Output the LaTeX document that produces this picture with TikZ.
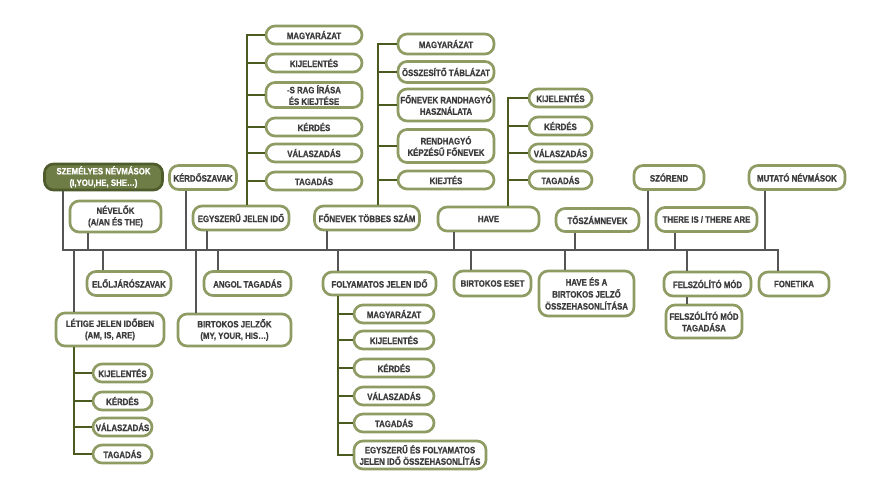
\documentclass[tikz,border=0pt]{standalone}
\usepackage{fontspec}
\newfontfamily\condfont{Liberation Sans Bold}[FakeStretch=0.85, FakeBold=0.9]
\definecolor{boxc}{HTML}{8E9C63}
\definecolor{szf}{HTML}{6E7D46}
\definecolor{szd}{HTML}{4E5C2C}
\definecolor{grayc}{HTML}{555555}
\definecolor{olc}{HTML}{4B5A1E}
\definecolor{txt}{HTML}{3C3C3C}
\begin{document}
\begin{tikzpicture}[x=1pt,y=-1pt,
  bx/.style={draw=boxc, line width=2.7pt, fill=white, rounded corners=9pt, align=center,
    text=txt, font=\condfont\fontsize{9.2}{11.5}\selectfont, inner xsep=0pt, inner ysep=1pt},
  sz/.style 2 args={minimum width=#1pt, minimum height=#2pt},
  szbox/.style={bx, fill=szf, draw=szd, text=white},
  gr/.style={draw=grayc, line width=2.4pt},
  ol/.style={draw=olc, line width=2.8pt}]
\useasboundingbox (0,0) rectangle (888,500);

% main line coordinates
\coordinate (mL) at (63,250);
\coordinate (mR) at (778,250);
\coordinate (dNev) at (88,250);
\coordinate (dKer) at (186,250);
\coordinate (dEgy) at (207,250);
\coordinate (dFon) at (327,250);
\coordinate (dHave) at (454,250);
\coordinate (dTosz) at (575,250);
\coordinate (dSzo) at (648,250);
\coordinate (dThere) at (675,250);
\coordinate (dMut) at (765,250);
\coordinate (dLet) at (74,250);
\coordinate (dElo) at (103,250);
\coordinate (dBirtJ) at (196,250);
\coordinate (dAngol) at (218,250);
\coordinate (dFoly) at (338,250);
\coordinate (dBirtE) at (471,250);
\coordinate (dHaveA) at (565,250);
\coordinate (dFelsz) at (687,250);

% upper nodes
\node[szbox, sz={118}{26}] (szem) at (103.5,177) {SZEMÉLYES NÉVMÁSOK\\(I,YOU,HE, SHE…)};
\node[bx, sz={91}{31}] (nev) at (115.5,216.5) {NÉVELŐK\\(A/AN ÉS THE)};
\node[bx, sz={67}{24}] (kerdo) at (203,177.5) {KÉRDŐSZAVAK};
\node[bx, sz={96}{24}] (egysz) at (241,218) {EGYSZERŰ JELEN IDŐ};
\node[bx, sz={105}{24}] (fon) at (367,218) {FŐNEVEK TÖBBES SZÁM};
\node[bx, sz={101}{24}] (have) at (488.5,219) {HAVE};
\node[bx, sz={83}{23}] (tosz) at (597.5,220) {TŐSZÁMNEVEK};
\node[bx, sz={70}{24}] (szorend) at (669,177.5) {SZÓREND};
\node[bx, sz={101}{24}] (there) at (706.5,219.5) {THERE IS / THERE ARE};
\node[bx, sz={96}{24}] (mutato) at (797,177.5) {MUTATÓ NÉVMÁSOK};

% lower nodes
\node[bx, sz={108}{33}] (letige) at (110,329.5) {LÉTIGE JELEN IDŐBEN\\(AM, IS, ARE)};
\node[bx, sz={84}{24}] (elolj) at (129,283.5) {ELŐLJÁRÓSZAVAK};
\node[bx, sz={87}{24}] (angol) at (247.5,283.5) {ANGOL TAGADÁS};
\node[bx, sz={113}{32}] (birtj) at (234.5,330) {BIRTOKOS JELZŐK\\(MY, YOUR, HIS…)};
\node[bx, sz={113}{23}] (folyam) at (379.5,283.5) {FOLYAMATOS JELEN IDŐ};
\node[bx, sz={77}{25}] (birtE) at (492.5,283.5) {BIRTOKOS ESET};
\node[bx, sz={95}{45}, font=\condfont\fontsize{9.2}{12}\selectfont] (haveA) at (586.5,293.5) {HAVE ÉS A\\BIRTOKOS JELZŐ\\ÖSSZEHASONLÍTÁSA};
\node[bx, sz={87}{24}] (felsz) at (707.5,284) {FELSZÓLÍTÓ MÓD};
\node[bx, sz={76}{33}] (felszT) at (704,321.5) {FELSZÓLÍTÓ MÓD\\TAGADÁSA};
\node[bx, sz={70}{24}] (fonet) at (794,284) {FONETIKA};

% main line with end drops
\draw[gr, line join=miter] (szem.south -| mL) -- (mL) -- (mR) -- (fonet.north -| mR);
\foreach \n/\d in {nev/dNev, kerdo/dKer, egysz/dEgy, fon/dFon, have/dHave, tosz/dTosz, szorend/dSzo, there/dThere, mutato/dMut}
  \draw[gr] (\n.south -| \d) -- (\d);
\foreach \n/\d in {letige/dLet, elolj/dElo, birtj/dBirtJ, angol/dAngol, folyam/dFoly, birtE/dBirtE, haveA/dHaveA, felsz/dFelsz}
  \draw[gr] (\d) -- (\n.north -| \d);
\draw[gr] (felsz.south -| dFelsz) -- (felszT.north -| dFelsz);

% EGYSZERŰ subtree
\coordinate (eV) at (247,0);
\node[bx, sz={96}{18}] (eMag) at (314,35) {MAGYARÁZAT};
\node[bx, sz={96}{18}] (eKij) at (314,63) {KIJELENTÉS};
\node[bx, sz={96}{25}] (eSrag) at (314,95) {-S RAG ÍRÁSA\\ÉS KIEJTÉSE};
\node[bx, sz={96}{18}] (eKer) at (314,127) {KÉRDÉS};
\node[bx, sz={96}{18}] (eVal) at (314,153) {VÁLASZADÁS};
\node[bx, sz={96}{18}] (eTag) at (314,181) {TAGADÁS};
\draw[ol, line join=miter] (egysz.north -| eV) -- (eMag.west -| eV) -- (eMag.west);
\foreach \n in {eKij,eSrag,eKer,eVal,eTag} \draw[ol] (\n.west -| eV) -- (\n.west);

% FŐNEVEK subtree
\coordinate (fV) at (378,0);
\node[bx, sz={96}{20}] (fMag) at (446,44) {MAGYARÁZAT};
\node[bx, sz={96}{21}] (fOssz) at (446,72) {ÖSSZESÍTŐ TÁBLÁZAT};
\node[bx, sz={96}{32}] (fRand) at (446,105) {FŐNEVEK RANDHAGYÓ\\HASZNÁLATA};
\node[bx, sz={96}{33}] (fRend) at (446,146) {RENDHAGYÓ\\KÉPZÉSŰ FŐNEVEK};
\node[bx, sz={96}{18}] (fKiej) at (446,180) {KIEJTÉS};
\draw[ol, line join=miter] (fon.north -| fV) -- (fMag.west -| fV) -- (fMag.west);
\foreach \n in {fOssz,fRand,fRend,fKiej} \draw[ol] (\n.west -| fV) -- (\n.west);

% HAVE subtree
\coordinate (hV) at (508,0);
\node[bx, sz={63}{18}] (hKij) at (560.5,98) {KIJELENTÉS};
\node[bx, sz={63}{18}] (hKer) at (560.5,126) {KÉRDÉS};
\node[bx, sz={63}{18}] (hVal) at (560.5,153) {VÁLASZADÁS};
\node[bx, sz={63}{18}] (hTag) at (560.5,180) {TAGADÁS};
\draw[ol, line join=miter] (have.north -| hV) -- (hKij.west -| hV) -- (hKij.west);
\foreach \n in {hKer,hVal,hTag} \draw[ol] (\n.west -| hV) -- (\n.west);

% LÉTIGE subtree
\coordinate (lV) at (74,0);
\node[bx, sz={59}{18}] (lKij) at (122.5,373) {KIJELENTÉS};
\node[bx, sz={59}{18}] (lKer) at (122.5,401) {KÉRDÉS};
\node[bx, sz={59}{18}] (lVal) at (122.5,427) {VÁLASZADÁS};
\node[bx, sz={59}{18}] (lTag) at (122.5,454) {TAGADÁS};
\draw[ol, line join=miter] (letige.south -| lV) -- (lTag.west -| lV) -- (lTag.west);
\foreach \n in {lKij,lKer,lVal} \draw[ol] (\n.west -| lV) -- (\n.west);

% FOLYAMATOS subtree
\coordinate (pV) at (338,0);
\node[bx, sz={80}{18}] (pMag) at (394,314) {MAGYARÁZAT};
\node[bx, sz={80}{18}] (pKij) at (394,340) {KIJELENTÉS};
\node[bx, sz={80}{18}] (pKer) at (394,368) {KÉRDÉS};
\node[bx, sz={80}{18}] (pVal) at (394,396) {VÁLASZADÁS};
\node[bx, sz={80}{18}] (pTag) at (394,423) {TAGADÁS};
\node[bx, sz={132}{28}] (pEgy) at (420,455) {EGYSZERŰ ÉS FOLYAMATOS\\JELEN IDŐ ÖSSZEHASONLÍTÁS};
\draw[ol, line join=miter] (folyam.south -| pV) -- (pEgy.west -| pV) -- (pEgy.west);
\foreach \n in {pMag,pKij,pKer,pVal,pTag} \draw[ol] (\n.west -| pV) -- (\n.west);
\end{tikzpicture}
\end{document}
